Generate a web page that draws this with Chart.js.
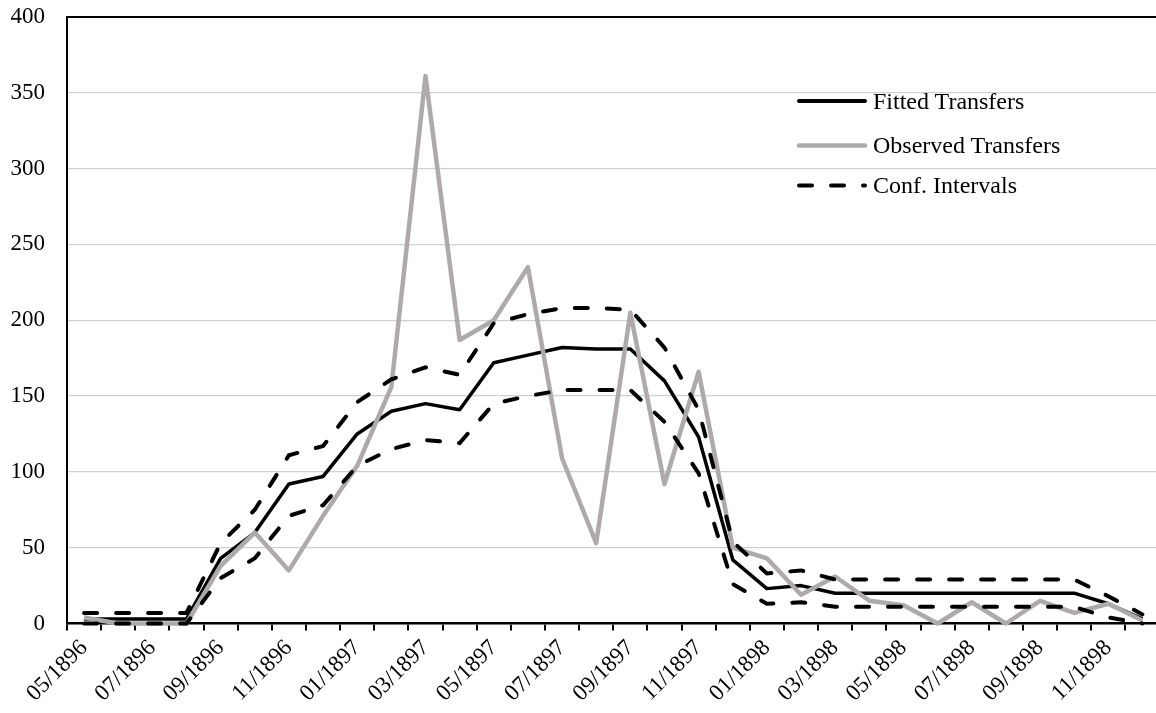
<!DOCTYPE html>
<html><head><meta charset="utf-8">
<script src="https://cdn.jsdelivr.net/npm/chart.js@4.4.1/dist/chart.umd.min.js"></script>
<style>
html,body{margin:0;padding:0;overflow:hidden;background:#fff;width:1156px;height:713px;}
#wrap{position:relative;width:1156px;height:713px;overflow:hidden;}
canvas{position:absolute;left:0;top:0;}
svg{position:absolute;left:0;top:0;}
</style></head><body>
<div id="wrap"><canvas id="c" width="1166" height="713"></canvas>
<svg id="leg" width="1156" height="713" xmlns="http://www.w3.org/2000/svg"></svg></div>
<script>
const months = ['05/1896','06/1896','07/1896','08/1896','09/1896','10/1896','11/1896','12/1896',
  '01/1897','02/1897','03/1897','04/1897','05/1897','06/1897','07/1897','08/1897','09/1897','10/1897','11/1897','12/1897',
  '01/1898','02/1898','03/1898','04/1898','05/1898','06/1898','07/1898','08/1898','09/1898','10/1898','11/1898','12/1898'];
const fitted   = [3,3,3,3,43,60,92,97,125,140,145,141,172,177,182,181,181,160,123,42,23,25,20,20,20,20,20,20,20,20,13,3];
const observed = [4,0,0,0,38,60,35,71,104,156,361,187,200,235,109,53,205,92,166,50,43,19,31,15,12,0,14,0,15,7,13,2];
const upperCI  = [7,7,7,7,53,75,111,117,146,161,169,164,198,204,208,208,207,182,141,54,33,35,29,29,29,29,29,29,29,29,18,6];
const lowerCI  = [0,0,0,0,30,43,71,78,104,115,121,119,145,150,154,154,154,133,99,26,13,14,11,11,11,11,11,11,11,11,4,0];
const yTicks = [0,50,100,150,200,250,300,350,400];
const seriesNames = ['Fitted Transfers','Observed Transfers','Conf. Intervals'];

const FONT = 'Liberation Serif';
const BLACK = '#000000';
const GREY = '#aeaaaa';

const ctx = document.getElementById('c').getContext('2d');
new Chart(ctx, {
  type: 'line',
  data: {
    labels: months,
    datasets: [
      {label: seriesNames[2], data: upperCI, borderColor: BLACK, borderWidth: 4, borderDash: [13, 19], borderCapStyle: 'round', pointRadius: 0, tension: 0, clip: 6},
      {label: seriesNames[2] + ' (lower)', data: lowerCI, borderColor: BLACK, borderWidth: 4, borderDash: [13, 19], borderCapStyle: 'round', pointRadius: 0, tension: 0, clip: 6},
      {label: seriesNames[1], data: observed, borderColor: GREY, borderWidth: 4.5, borderJoinStyle: 'round', pointRadius: 0, tension: 0, clip: 6},
      {label: seriesNames[0], data: fitted, borderColor: BLACK, borderWidth: 3.5, borderJoinStyle: 'round', pointRadius: 0, tension: 0, clip: 6}
    ]
  },
  options: {
    responsive: false,
    animation: false,
    devicePixelRatio: 1,
    layout: {padding: {left: 0, top: 17, right: 2, bottom: 0}},
    plugins: {legend: {display: false}, tooltip: {enabled: false}},
    scales: {
      x: {
        type: 'category',
        offset: true,
        grid: {offset: true, drawOnChartArea: false, drawTicks: true, tickLength: 7, color: BLACK, lineWidth: 2},
        border: {display: true, color: BLACK, width: 2.5},
        ticks: {
          autoSkip: false, maxRotation: 45, minRotation: 45, color: BLACK, padding: 4,
          font: {family: FONT, size: 23},
          callback: (v, i) => (i % 2 === 0 ? months[i] : '')
        },
        afterFit(s) { s.height = 89.5; }
      },
      y: {
        min: 0, max: 400,
        afterBuildTicks(s) { s.ticks = yTicks.map(v => ({value: v})); },
        ticks: {color: BLACK, padding: 0, font: {family: FONT, size: 23}},
        grid: {
          drawTicks: true, tickLength: 22, tickColor: 'rgba(0,0,0,0)',
          color: c => (c.tick && c.tick.value === 400 ? BLACK : '#d0d0d0'),
          lineWidth: c => (c.tick && c.tick.value === 400 ? 2 : 1.3)
        },
        border: {display: true, color: BLACK, width: 2},
        afterFit(s) { s.width = 67; }
      }
    }
  }
});

// Legend (inside plot area, like the original)
const svg = document.getElementById('leg');
const NS = 'http://www.w3.org/2000/svg';
const legendStyles = [
  {color: BLACK, width: 4, dash: null, y: 101},
  {color: GREY, width: 4.5, dash: null, y: 145.5},
  {color: BLACK, width: 4, dash: '13 19', y: 185.5}
];
seriesNames.forEach((name, i) => {
  const st = legendStyles[i];
  const ln = document.createElementNS(NS, 'line');
  ln.setAttribute('x1', 799); ln.setAttribute('x2', 865);
  ln.setAttribute('y1', st.y); ln.setAttribute('y2', st.y);
  ln.setAttribute('stroke', st.color); ln.setAttribute('stroke-width', st.width);
  ln.setAttribute('stroke-linecap', 'round');
  if (st.dash) ln.setAttribute('stroke-dasharray', st.dash);
  svg.appendChild(ln);
  const tx = document.createElementNS(NS, 'text');
  tx.setAttribute('x', 873); tx.setAttribute('y', st.y + 7.7);
  tx.setAttribute('font-family', FONT); tx.setAttribute('font-size', 24);
  tx.setAttribute('fill', BLACK);
  tx.textContent = name;
  svg.appendChild(tx);
});
</script>
</body></html>
